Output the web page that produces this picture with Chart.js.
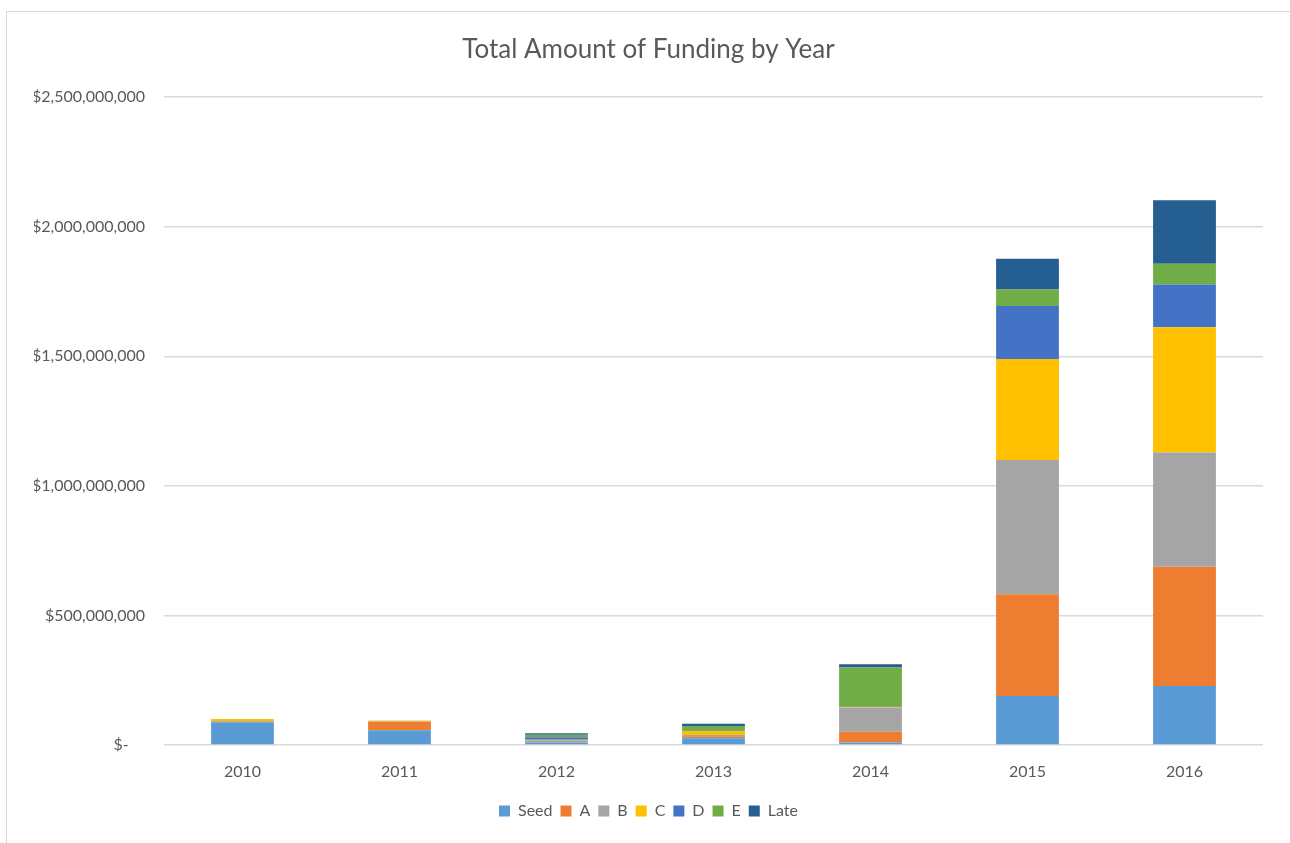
<!DOCTYPE html>
<html>
<head>
<meta charset="utf-8">
<script src="https://cdn.jsdelivr.net/npm/chart.js@4"></script>
<style>
  body { margin: 0; background: #fff; }
  #frame { position: absolute; left: 6px; top: 11px; width: 1290px; height: 850px; border: 1.5px solid #d9d9d9; box-sizing: border-box; }
  #wrap { position: absolute; left: 0; top: 0; width: 1290px; height: 843px; }
</style>
</head>
<body>
<div id="frame"></div>
<div id="wrap"><canvas id="myChart"></canvas></div>
<script>
const years = ['2010', '2011', '2012', '2013', '2014', '2015', '2016'];
const seed = [88e6, 57e6, 10e6, 26e6, 10e6, 189e6, 228e6];
const roundA = [2e6, 33e6, 2e6, 5e6, 41e6, 393e6, 460e6];
const roundB = [3e6, 2e6, 6e6, 8e6, 93e6, 518e6, 441e6];
const roundC = [7e6, 3e6, 2e6, 15e6, 3e6, 390e6, 483e6];
const roundD = [0, 0, 10e6, 2e6, 2e6, 204e6, 165e6];
const roundE = [0, 0, 10e6, 17e6, 150e6, 64e6, 80e6];
const late = [0, 0, 5e6, 9e6, 13e6, 119e6, 245e6];
const yTicks = [0, 500e6, 1000e6, 1500e6, 2000e6, 2500e6];

const seriesNames = ['Seed', 'A', 'B', 'C', 'D', 'E', 'Late'];
const seriesData = [seed, roundA, roundB, roundC, roundD, roundE, late];
const seriesColors = ['#5b9bd5', '#ed7d31', '#a5a5a5', '#ffc000', '#4472c4', '#70ad47', '#255e91'];

function money(v) {
  if (v === 0) return '$-    ';
  return '$' + v.toLocaleString('en-US');
}

function initChart() {
  const ctx = document.getElementById('myChart');
  Chart.defaults.font.family = 'Lato, "Open Sans", sans-serif';
  Chart.defaults.color = '#595959';

  return new Chart(ctx, {
    type: 'bar',
    data: {
      labels: years,
      datasets: seriesNames.map((name, i) => ({
        label: name,
        data: seriesData[i],
        backgroundColor: seriesColors[i],
        borderWidth: 0,
        categoryPercentage: 1,
        barPercentage: 0.4
      }))
    },
    options: {
      responsive: true,
      maintainAspectRatio: false,
      animation: false,
      layout: { padding: { top: 34, right: 27, bottom: 14, left: 34 } },
      plugins: {
        title: {
          display: true,
          text: 'Total Amount of Funding by Year',
          color: '#595959',
          font: { size: 26, weight: 'normal' },
          padding: { top: 0, bottom: 32 }
        },
        legend: {
          position: 'bottom',
          labels: {
            boxWidth: 11,
            boxHeight: 11,
            padding: 8,
            color: '#595959',
            font: { size: 16 }
          }
        },
        tooltip: { enabled: false }
      },
      scales: {
        x: {
          stacked: true,
          grid: { display: false },
          border: { display: false },
          ticks: { font: { size: 16 }, padding: 9 },
          afterFit: s => { s.height = 50; }
        },
        y: {
          stacked: true,
          min: 0,
          max: 2500e6,
          afterBuildTicks: s => { s.ticks = yTicks.map(v => ({ value: v })); },
          grid: { color: '#d9d9d9', lineWidth: 1.5, drawTicks: false },
          border: { display: false },
          ticks: { font: { size: 16 }, padding: 19, callback: v => money(v) },
          afterFit: s => { s.width = 130; }
        }
      }
    }
  });
}

document.addEventListener('DOMContentLoaded', () => initChart());
</script>
</body>
</html>
